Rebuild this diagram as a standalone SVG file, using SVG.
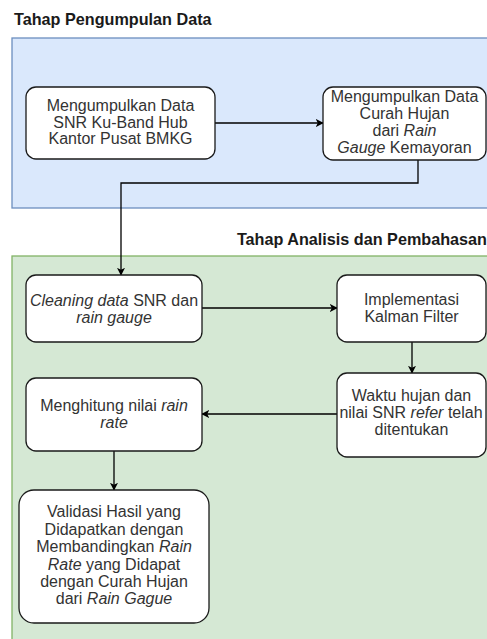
<svg xmlns="http://www.w3.org/2000/svg" width="487" height="639" viewBox="0 0 487 639">
<style>
.title{font-family:"Liberation Sans",Arial,sans-serif;font-weight:bold;font-size:16.2px;fill:#1a1a1a}
.t{font-family:"Liberation Sans",Arial,sans-serif;font-size:16px;fill:#333333;text-anchor:middle}
.i{font-style:italic}
.box{fill:#ffffff;stroke:#1a1a1a;stroke-width:1.3}
.edge{fill:none;stroke:#000;stroke-width:1.3;marker-end:url(#arr)}
</style>
<defs>
<marker id="arr" viewBox="0 0 10 10" refX="9" refY="5" markerWidth="8" markerHeight="8" markerUnits="userSpaceOnUse" orient="auto">
<path d="M0,0 L10,5 L0,10 L2.5,5 Z" fill="#000"/>
</marker>
</defs>
<rect width="487" height="639" fill="#ffffff"/>
<g id="stage1">
<text class="title" x="14" y="25">Tahap Pengumpulan Data</text>
<rect x="12" y="38" width="490" height="170" fill="#dae8fc" stroke="#6c8ebf" stroke-width="1.3"/>
</g>
<g id="stage2">
<text class="title" x="487" y="245" text-anchor="end">Tahap Analisis dan Pembahasan</text>
<rect x="12" y="256" width="490" height="400" fill="#d5e8d4" stroke="#82b366" stroke-width="1.3"/>
</g>
<g id="connectors">
<path class="edge" d="M215,123 H323"/>
<path class="edge" d="M418,160 V183 H121 V275"/>
<path class="edge" d="M202,308 H337"/>
<path class="edge" d="M412,342 V373"/>
<path class="edge" d="M337,414 H202"/>
<path class="edge" d="M114,451 V490"/>
</g>
<g id="n1">
<rect class="box" x="26" y="87" width="189" height="72" rx="10"/>
<text class="t" x="120.5" y="111">Mengumpulkan Data</text>
<text class="t" x="120.5" y="127.5">SNR Ku-Band Hub</text>
<text class="t" x="120.5" y="144">Kantor Pusat BMKG</text>
</g>
<g id="n2">
<rect class="box" x="323" y="87" width="163" height="73" rx="10"/>
<text class="t" x="404.5" y="102">Mengumpulkan Data</text>
<text class="t" x="404.5" y="119">Curah Hujan</text>
<text class="t" x="404.5" y="136">dari  <tspan class="i">Rain</tspan></text>
<text class="t" x="404.5" y="153"><tspan class="i">Gauge</tspan> Kemayoran</text>
</g>
<g id="n3">
<rect class="box" x="26" y="275" width="176" height="67" rx="10"/>
<text class="t" x="114" y="306"><tspan class="i">Cleaning data</tspan> SNR dan</text>
<text class="t i" x="114" y="323">rain gauge</text>
</g>
<g id="n4">
<rect class="box" x="337" y="275" width="149" height="67" rx="10"/>
<text class="t" x="411.5" y="305">Implementasi</text>
<text class="t" x="411.5" y="322">Kalman Filter</text>
</g>
<g id="n5">
<rect class="box" x="337" y="373" width="149" height="84" rx="10"/>
<text class="t" x="411.5" y="401">Waktu hujan dan</text>
<text class="t" x="411" y="418">nilai SNR <tspan class="i">refer</tspan> telah</text>
<text class="t" x="411.5" y="435">ditentukan</text>
</g>
<g id="n6">
<rect class="box" x="26" y="378" width="176" height="73" rx="10"/>
<text class="t" x="114" y="411">Menghitung nilai <tspan class="i">rain</tspan></text>
<text class="t i" x="114" y="428">rate</text>
</g>
<g id="n7">
<rect class="box" x="19" y="490" width="190" height="133" rx="15"/>
<text class="t" x="114" y="517">Validasi Hasil yang</text>
<text class="t" x="114" y="535">Didapatkan dengan</text>
<text class="t" x="114" y="552">Membandingkan <tspan class="i">Rain</tspan></text>
<text class="t" x="114" y="570"><tspan class="i">Rate</tspan> yang Didapat</text>
<text class="t" x="114" y="587">dengan Curah Hujan</text>
<text class="t" x="114" y="604">dari <tspan class="i">Rain Gague</tspan></text>
</g>
</svg>
